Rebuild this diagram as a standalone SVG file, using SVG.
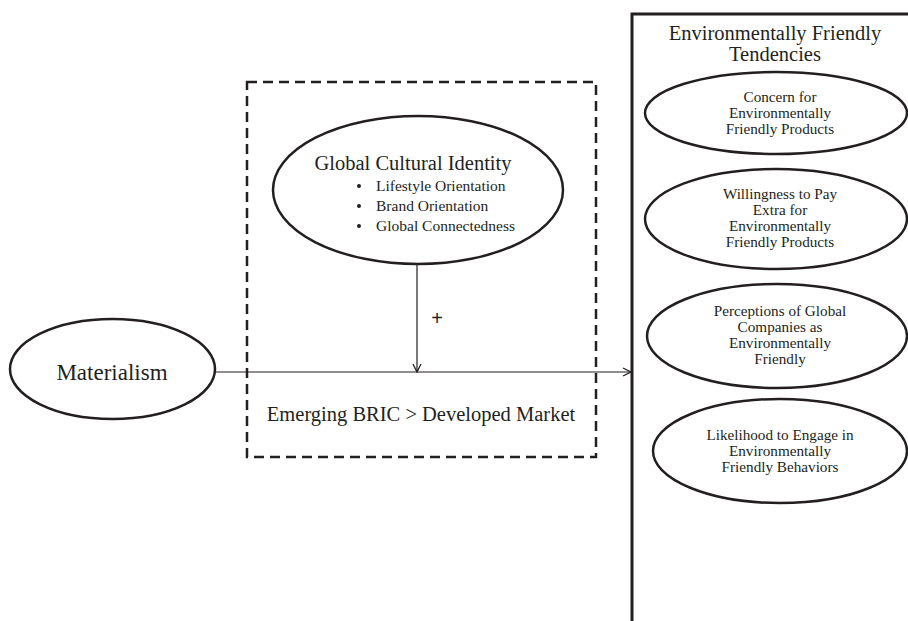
<svg xmlns="http://www.w3.org/2000/svg" width="908" height="621" viewBox="0 0 908 621">
<defs>
<style>
text{font-family:"Liberation Serif","Times New Roman",serif;fill:#231f20;}
.big{font-size:20.5px;}
.mat{font-size:23px;}
.sm{font-size:15.5px;}
.el{font-size:15.2px;}
.mid{text-anchor:middle;}
.node{fill:#fff;stroke:#231f20;stroke-width:2.5;}
.line{stroke:#231f20;stroke-width:1.2;fill:none;}
</style>
<marker id="arr" markerWidth="12" markerHeight="12" refX="9" refY="5" orient="auto" markerUnits="userSpaceOnUse" viewBox="0 0 12 10">
<path d="M1,1 L9,5 L1,9" fill="none" stroke="#231f20" stroke-width="1.3"/>
</marker>
</defs>
<rect width="908" height="621" fill="#fff"/>

<g id="moderator-box">
<rect x="247" y="82" width="349" height="375" fill="none" stroke="#231f20" stroke-width="2.5" stroke-dasharray="10,6"/>
<text class="big mid" x="421" y="421">Emerging BRIC &gt; Developed Market</text>
</g>

<g id="outcome-box">
<path d="M632,621 L632,14 L910,14" fill="none" stroke="#231f20" stroke-width="3"/>
<text class="big mid" x="775" y="40">Environmentally Friendly</text>
<text class="big mid" x="775" y="61">Tendencies</text>
</g>

<g id="connectors">
<line class="line" x1="215" y1="372" x2="631" y2="372" marker-end="url(#arr)"/>
<line class="line" x1="417" y1="265" x2="417" y2="372" marker-end="url(#arr)"/>
<text x="437" y="325" style="font-family:'Liberation Sans',Arial,sans-serif;font-size:20px;text-anchor:middle">+</text>
</g>

<g id="materialism">
<ellipse class="node" cx="112.5" cy="369" rx="102.5" ry="50"/>
<text class="mat mid" x="112" y="380">Materialism</text>
</g>

<g id="global-cultural-identity">
<ellipse class="node" cx="418" cy="190" rx="145" ry="74"/>
<text class="big mid" x="413" y="170">Global Cultural Identity</text>
<circle cx="359" cy="186" r="2" fill="#231f20"/>
<circle cx="359" cy="206" r="2" fill="#231f20"/>
<circle cx="359" cy="226" r="2" fill="#231f20"/>
<text class="sm" x="376" y="191">Lifestyle Orientation</text>
<text class="sm" x="376" y="211">Brand Orientation</text>
<text class="sm" x="376" y="231">Global Connectedness</text>
</g>

<g id="concern">
<ellipse class="node" cx="776" cy="113" rx="131" ry="41"/>
<text class="el mid" x="780" y="102">Concern for</text>
<text class="el mid" x="780" y="118">Environmentally</text>
<text class="el mid" x="780" y="134">Friendly Products</text>
</g>

<g id="willingness">
<ellipse class="node" cx="776" cy="219" rx="131" ry="50"/>
<text class="el mid" x="780" y="199">Willingness to Pay</text>
<text class="el mid" x="780" y="215">Extra for</text>
<text class="el mid" x="780" y="231">Environmentally</text>
<text class="el mid" x="780" y="247">Friendly Products</text>
</g>

<g id="perceptions">
<ellipse class="node" cx="777" cy="336" rx="130" ry="52"/>
<text class="el mid" x="780" y="316">Perceptions of Global</text>
<text class="el mid" x="780" y="332">Companies as</text>
<text class="el mid" x="780" y="348">Environmentally</text>
<text class="el mid" x="780" y="364">Friendly</text>
</g>

<g id="likelihood">
<ellipse class="node" cx="780" cy="451" rx="127" ry="52"/>
<text class="el mid" x="780" y="440">Likelihood to Engage in</text>
<text class="el mid" x="780" y="456">Environmentally</text>
<text class="el mid" x="780" y="472">Friendly Behaviors</text>
</g>
</svg>
